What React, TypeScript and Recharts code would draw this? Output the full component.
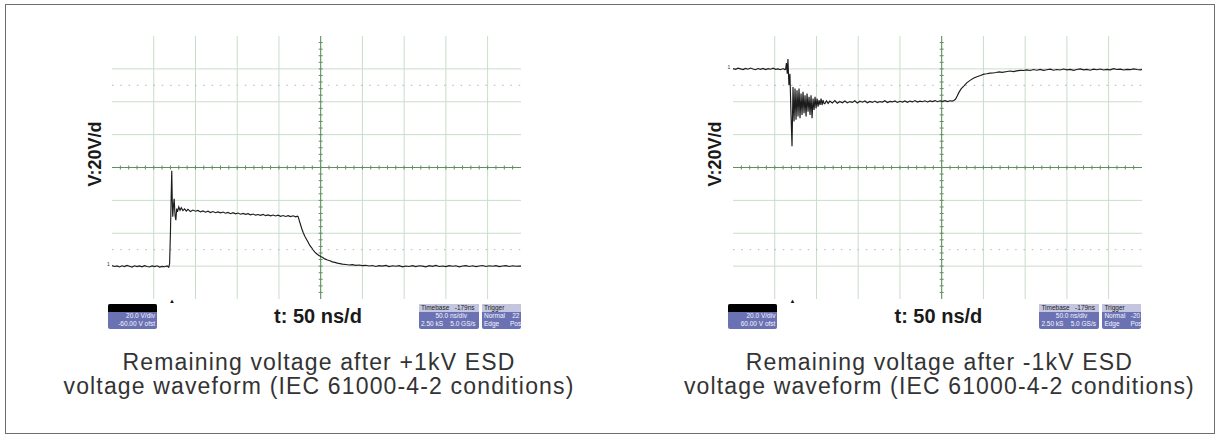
import React from "react";
import {
  CartesianGrid,
  Line,
  LineChart,
  ReferenceLine,
  XAxis,
  YAxis,
} from "recharts";

// sample time (ns) and volts
const timeTicks = [0, 50, 100, 150, 200, 250, 300, 350, 400, 450];
const posVoltTicks = [-20, 0, 20, 40, 60, 80, 100, 120];
const negVoltTicks = [-140, -120, -100, -80, -60, -40, -20, 0];

const posTrace: [number, number][] = [
  [0, 0.3], [3, -0.2], [6, 0.1], [9, -0.5], [12, 0.2], [15, -0.3], [18, 0.4], [21, -0.1],
  [24, -0.6], [27, 0.2], [30, -0.3], [33, 0.1], [36, -0.4], [39, 0.3], [42, -0.2], [45, -0.5],
  [48, 0.1], [51, -0.3], [54, 0.2], [57, -0.6], [60, -0.2], [63, -0.4], [66, 0.1], [68, -0.7],
  [69, 1.5], [70, 20], [71, 45], [71.6, 58], [72.2, 40], [72.8, 30], [73.5, 36], [74.5, 41],
  [75.5, 31], [76.5, 28], [77.5, 35], [78.5, 33], [80, 36], [81.5, 34], [83, 35.5], [85, 33.8],
  [87, 34.8], [89, 33.5], [91, 34.6], [94, 33.2], [97, 34.1], [100, 33.4], [103, 33.9], [106, 33.0],
  [109, 33.6], [112, 32.8], [115, 33.4], [118, 32.6], [121, 33.2], [124, 32.5], [127, 33.0], [130, 32.4],
  [133, 32.9], [136, 32.2], [139, 32.7], [142, 31.9], [145, 32.5], [148, 31.8], [151, 32.3], [154, 31.6],
  [157, 32.1], [160, 31.5], [163, 31.9], [166, 31.2], [169, 31.7], [172, 31.0], [175, 31.4], [178, 30.9],
  [181, 31.5], [184, 30.7], [187, 31.2], [190, 30.6], [193, 31.1], [196, 30.5], [199, 31.0], [202, 30.3],
  [205, 30.8], [208, 30.2], [211, 30.7], [214, 30.1], [217, 30.6], [220, 30.0], [222, 30.4], [223, 30.1],
  [224.5, 27.5], [226, 25], [227.5, 22.6], [229, 20.5], [231, 18.2], [233, 16.4], [235, 14.5], [237, 12.6],
  [239, 11.3], [241, 9.8], [243, 8.5], [245.5, 7.4], [248, 6.5], [250, 5.8], [252.5, 5.2], [255, 4.4],
  [258, 3.7], [261, 3.3], [264, 2.6], [267, 2.3], [270, 1.8], [273, 1.5], [276, 1.2], [280, 1.0],
  [284, 0.7], [288, 0.9], [292, 0.5], [296, 0.7], [300, 0.3], [304, 0.5], [308, 0.1], [312, 0.4],
  [316, -0.2], [320, 0.3], [324, 0.0], [328, 0.4], [332, -0.3], [336, 0.2], [340, -0.1], [344, 0.3],
  [348, -0.4], [352, 0.1], [356, -0.2], [360, 0.3], [364, -0.3], [368, 0.2], [372, 0.0], [376, -0.4],
  [380, 0.3], [384, -0.1], [388, 0.4], [392, -0.2], [396, 0.1], [400, -0.3], [404, 0.3], [408, -0.1],
  [412, 0.2], [416, -0.4], [420, 0.1], [424, 0.3], [428, -0.2], [432, 0.2], [436, -0.3], [440, 0.1],
  [444, 0.4], [448, -0.2], [452, 0.2], [456, -0.1], [460, 0.3], [464, -0.3], [468, 0.1], [472, 0.3],
  [476, -0.2], [480, 0.2], [484, -0.1], [488, 0.1], [490, 0.0],
];

const negTrace: [number, number][] = [
  [0, 0.2], [3, -0.3], [6, 0.4], [9, 0.0], [12, -0.4], [15, 0.3], [18, -0.2], [21, 0.5],
  [24, -0.1], [27, -0.5], [30, 0.2], [33, -0.3], [36, 0.3], [39, -0.4], [42, 0.1], [45, -0.2],
  [48, 0.4], [51, -0.3], [54, 0.0], [57, -0.5], [60, 0.2], [62, -0.4], [63, -0.3], [64, 3.5],
  [65, -3], [65.8, 6], [67, -10], [68.2, -3], [69.4, -26], [70.7, -47], [71.9, -11], [73.1, -32],
  [74.3, -12], [75.5, -31], [76.7, -13], [77.9, -29], [79.1, -12], [80.3, -30], [81.5, -15], [82.7, -28],
  [83.9, -14], [85.1, -27], [86.3, -16], [87.5, -29], [88.7, -15], [89.9, -26], [91.1, -17], [92.3, -28],
  [93.5, -16], [94.7, -30], [95.9, -18], [97.1, -25], [98.3, -17], [99.5, -24], [100.7, -18], [101.9, -23],
  [103.1, -19], [104.3, -22], [105.5, -18], [106.7, -22], [107.9, -19], [109, -21], [110, -21.2], [112, -19.4],
  [114, -21.0], [116, -19.6], [119, -20.8], [122, -19.3], [125, -20.9], [128, -19.8], [131, -20.6], [134, -19.5],
  [137, -20.7], [140, -19.9], [143, -20.4], [146, -19.4], [149, -20.8], [152, -19.7], [155, -20.3], [158, -19.5],
  [161, -20.6], [164, -19.8], [167, -20.4], [170, -19.6], [173, -20.5], [176, -19.9], [179, -20.2], [182, -19.4],
  [185, -20.5], [188, -19.8], [191, -20.1], [194, -19.5], [197, -20.4], [200, -19.7], [203, -20.2], [206, -19.5],
  [209, -20.3], [212, -19.6], [215, -20.1], [218, -19.3], [221, -20.2], [224, -19.6], [227, -20.0], [230, -19.4],
  [233, -20.1], [236, -19.5], [239, -19.9], [242, -19.3], [245, -20.0], [248, -19.4], [251, -19.8], [254, -19.3],
  [257, -19.9], [260, -19.4], [262.5, -19.6], [264.5, -19.2], [266.5, -18.5], [268.6, -16.5], [271, -14], [273.5, -12],
  [276.5, -10.5], [280, -8.5], [284, -7], [288.5, -5.6], [293, -4.6], [296.5, -4.0], [300.5, -3.2], [304, -3.0],
  [308, -2.6], [311.5, -2.5], [315, -2.2], [319, -1.8], [322.5, -2.1], [328.5, -1.6], [332, -1.3], [336, -1.7],
  [340, -1.2], [344, -0.9], [348, -1.0], [352, -0.6], [356, -1.0], [360, -0.4], [364, -0.8], [368, -0.3],
  [372, -0.9], [376, -0.5], [380, -0.2], [384, -0.8], [388, -0.4], [392, -0.7], [396, -0.1], [400, -0.6],
  [404, -0.3], [408, -0.9], [412, -0.4], [416, 0.0], [420, -0.6], [424, -0.3], [428, -0.8], [432, -0.2],
  [436, -0.5], [440, -0.1], [444, -0.7], [448, -0.3], [452, -0.6], [456, 0.1], [460, -0.4], [464, -0.2],
  [468, -0.7], [472, -0.3], [476, -0.5], [480, 0.0], [484, -0.4], [488, -0.6], [490, -0.3],
];

const GRID = "#c9ddc9";
const AXIS = "#5f8f5f";
const BOX = "#6b72b3";

// center cross with the little 1/5-div ticks
function CenterLine(props: any) {
  const { x1, y1, x2, y2 } = props;
  const marks = [];
  if (Math.abs(x1 - x2) < 0.5) {
    for (let i = 1; i < 40; i++) {
      const y = y1 + ((y2 - y1) * i) / 40;
      marks.push(<line key={i} x1={x1 - 2} x2={x1 + 2} y1={y} y2={y} />);
    }
  } else {
    for (let i = 1; i < 49; i++) {
      const x = x1 + ((x2 - x1) * i) / 49;
      marks.push(<line key={i} x1={x} x2={x} y1={y1 - 2} y2={y1 + 2} />);
    }
  }
  return (
    <g stroke={AXIS} strokeWidth={1}>
      <line x1={x1} y1={y1} x2={x2} y2={y2} />
      {marks}
    </g>
  );
}

function Scope({ trace, domain, ticks, center, dotted, left, top }: any) {
  const data = trace.map(([t, v]: [number, number]) => ({ t, v }));
  return (
    <div style={{ position: "absolute", left: left - 2, top: top - 2 }}>
      <LineChart
        width={413}
        height={267}
        data={data}
        margin={{ top: 2, right: 2, bottom: 2, left: 2 }}
      >
        <CartesianGrid stroke={GRID} horizontalValues={ticks} verticalValues={timeTicks} />
        <XAxis type="number" dataKey="t" domain={[0, 490]} ticks={timeTicks} hide allowDataOverflow />
        <YAxis type="number" domain={domain} ticks={ticks} hide allowDataOverflow />
        {dotted.map((d: number) => (
          <ReferenceLine key={d} y={d} stroke="#b5b5b5" strokeDasharray="1.5 6.8" />
        ))}
        <ReferenceLine x={250} shape={(p: any) => <CenterLine {...p} />} />
        <ReferenceLine y={center} shape={(p: any) => <CenterLine {...p} />} />
        <Line
          type="linear"
          dataKey="v"
          stroke="#1c1c1c"
          strokeWidth={1.15}
          dot={false}
          isAnimationActive={false}
        />
      </LineChart>
    </div>
  );
}

function InfoBox({ left, width, head, headDark, rows, align }: any) {
  return (
    <div
      style={{
        position: "absolute",
        left,
        top: 304,
        width,
        height: 25,
        overflow: "hidden",
        borderRadius: 2,
        background: BOX,
        fontSize: 6.5,
        lineHeight: "8px",
        fontFamily: "Liberation Sans, Arial, sans-serif",
      }}
    >
      <div
        style={{
          height: 8,
          background: headDark ? "#000" : "#c4c6e0",
          color: "#222",
          paddingLeft: 2,
          whiteSpace: "pre",
        }}
      >
        {head}
      </div>
      {rows.map((r: string, i: number) => (
        <div
          key={i}
          style={{
            color: "#f4f4ff",
            whiteSpace: "pre",
            textAlign: align,
            paddingRight: 2,
            paddingLeft: 2,
            lineHeight: "8px",
          }}
        >
          {r}
        </div>
      ))}
    </div>
  );
}

function Panel({ dx, top, trace, domain, ticks, center, dotted, zeroY, caption, ofst, trig }: any) {
  return (
    <>
      <div
        style={{
          position: "absolute",
          left: dx + 95,
          top: 154,
          transform: "translate(-50%, -50%) rotate(-90deg)",
          fontWeight: 700,
          fontSize: 18,
          lineHeight: 1,
          whiteSpace: "nowrap",
          color: "#1a1a1a",
        }}
      >
        V:20V/d
      </div>
      <Scope trace={trace} domain={domain} ticks={ticks} center={center} dotted={dotted} left={dx + 112.3} top={top} />
      <div style={{ position: "absolute", left: dx + 107, top: zeroY - 4, fontSize: 5, lineHeight: 1, color: "#333" }}>1</div>
      <div style={{ position: "absolute", left: dx + 169, top: 298, fontSize: 6, lineHeight: 1, color: "#111" }}>▲</div>
      <InfoBox left={dx + 108} width={49} head="" headDark rows={["20.0 V/div", ofst]} align="right" />
      <div
        style={{
          position: "absolute",
          left: dx + 318,
          top: 306,
          transform: "translateX(-50%)",
          fontWeight: 700,
          fontSize: 20,
          lineHeight: 1,
          whiteSpace: "nowrap",
          color: "#1a1a1a",
        }}
      >
        t: 50 ns/d
      </div>
      <InfoBox left={dx + 419} width={60} head="Timebase   -179ns" rows={["        50.0 ns/div", "2.50 kS    5.0 GS/s"]} align="left" />
      <InfoBox left={dx + 482} width={39} head="Trigger" rows={trig} align="left" />
      <div
        style={{
          position: "absolute",
          left: dx + 19,
          top: 350,
          width: 600,
          textAlign: "center",
          fontSize: 23,
          letterSpacing: 1.15,
          lineHeight: "24px",
          color: "#333",
        }}
      >
        <div>{caption}</div>
        <div>voltage waveform (IEC 61000-4-2 conditions)</div>
      </div>
    </>
  );
}

export default function App() {
  return (
    <div
      style={{
        position: "relative",
        width: 1219,
        height: 439,
        background: "#fff",
        fontFamily: "Liberation Sans, Arial, sans-serif",
        overflow: "hidden",
      }}
    >
      <style>{"body{margin:0}"}</style>
      <div
        style={{
          position: "absolute",
          left: 5,
          top: 4,
          width: 1208,
          height: 428,
          border: "1.5px solid #6e6e6e",
        }}
      />
      <Panel
        dx={0}
        top={35.5}
        trace={posTrace}
        domain={[-20, 140]}
        ticks={posVoltTicks}
        center={60}
        dotted={[110, 10]}
        zeroY={265.6}
        caption="Remaining voltage after +1kV ESD"
        ofst="-60.00 V ofst"
        trig={["Normal    22", "Edge      Pos"]}
      />
      <Panel
        dx={620.4}
        top={36}
        trace={negTrace}
        domain={[-140, 20]}
        ticks={negVoltTicks}
        center={-60}
        dotted={[-10, -110]}
        zeroY={68.9}
        caption="Remaining voltage after -1kV ESD"
        ofst="60.00 V ofst"
        trig={["Normal   -20", "Edge      Pos"]}
      />
    </div>
  );
}
